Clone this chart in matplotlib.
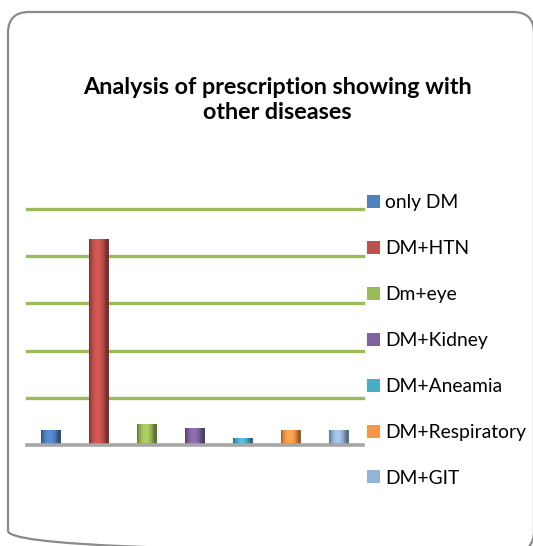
import numpy as np
import matplotlib
matplotlib.use("Agg")
import matplotlib.pyplot as plt
from matplotlib.patches import FancyBboxPatch
from matplotlib.transforms import Affine2D
from matplotlib.colors import to_rgb

categories = ["only DM", "DM+HTN", "Dm+eye", "DM+Kidney", "DM+Aneamia",
              "DM+Respiratory", "DM+GIT"]
values = [6.4, 87.2, 9.1, 7.4, 3.1, 6.4, 6.4]
colors = ["#4F81BD", "#C0504D", "#9BBB59", "#8064A2", "#4BACC6",
          "#F79646", "#95B3D7"]
grid_ticks = [20, 40, 60, 80, 100]
title = "Analysis of prescription showing with\nother diseases"

plt.rcParams["font.family"] = ["Lato", "DejaVu Sans"]

W, H, DPI = 533, 546, 100
fig = plt.figure(figsize=(W / DPI, H / DPI), dpi=DPI)
fig.patch.set_facecolor("white")

# pixel coordinates measured from the top-left corner
px = Affine2D().scale(1, -1).translate(0, H).scale(1 / W, 1 / H) + fig.transFigure

# rounded chart-area frame (runs slightly off the right and bottom edges)
fx0, fx1, fy_top, fy_bot = 8, 534, 12, 552
frame = FancyBboxPatch((fx0, fy_top), fx1 - fx0, fy_bot - fy_top,
                       boxstyle="round,pad=0,rounding_size=21",
                       transform=px, facecolor="none",
                       edgecolor="#8a8a8a", linewidth=1.6, zorder=-5)
fig.patches.append(frame)

ax_left, ax_right, ax_bottom, ax_top = 27, 363, 445, 209
ax = fig.add_axes([ax_left / W, (H - ax_bottom) / H,
                   (ax_right - ax_left) / W, (ax_bottom - ax_top) / H])
ax.set_facecolor("none")
for s in ax.spines.values():
    s.set_visible(False)
ax.set_xticks([])
ax.set_yticks([])

for g in grid_ticks:
    ax.axhline(g, color="#9BBB59", lw=2.4, zorder=1, clip_on=False)
ax.axhline(0, color="#a6a6a6", lw=2.6, zorder=4, clip_on=False)


def shade(c):
    # horizontal cylinder-style shading across a bar
    base = np.array(to_rgb(c))
    t = np.linspace(0, 1, 64)
    k = 0.62 + 0.5 * np.sin(np.pi * np.clip(t * 1.15, 0, 1)) ** 0.8
    rgb = np.clip(base[None, :] * k[:, None], 0, 1)
    return rgb[None, :, :]


handles = []
for i, (cat, v, c) in enumerate(zip(categories, values, colors)):
    bars = ax.bar(i, v, width=0.4, color=c, label=cat, zorder=2,
                  edgecolor="none")
    p = bars.patches[0]
    x0, y0 = p.get_x(), p.get_y()
    im = ax.imshow(shade(c), extent=[x0, x0 + p.get_width(), y0, y0 + v],
                   aspect="auto", zorder=3, interpolation="bilinear")
    im.set_clip_path(p)
    handles.append(bars)

ax.set_xlim(-0.5, len(categories) - 0.5)
ax.set_ylim(0, grid_ticks[-1])

leg = fig.legend(handles=handles, labels=categories, loc="upper left",
                 bbox_to_anchor=(367 / W, 1 - 194 / H), frameon=False,
                 fontsize=13.9, handlelength=0.66, handleheight=0.66,
                 handletextpad=0.28, labelspacing=1.5, borderpad=0,
                 borderaxespad=0)

fig.text(277 / W, 1 - 100 / H, title, ha="center", va="center",
         fontsize=16.8, fontweight="bold", linespacing=1.25)

fig.savefig("out.png", dpi=DPI)
